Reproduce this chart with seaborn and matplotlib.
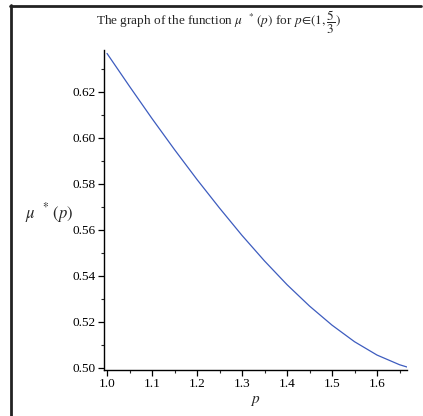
import pandas as pd
import matplotlib
matplotlib.use("Agg")
import matplotlib.pyplot as plt
from matplotlib.lines import Line2D
from matplotlib.ticker import MultipleLocator, FormatStrFormatter
import seaborn as sns

# values
p_values = [1.00, 1.05, 1.10, 1.15, 1.20, 1.25, 1.30, 1.35, 1.40,
            1.45, 1.50, 1.55, 1.60, 1.65, 5 / 3]
mu_values = [0.6366, 0.6223, 0.6083, 0.5948, 0.5818, 0.5694, 0.5575, 0.5464,
             0.5361, 0.5268, 0.5185, 0.5113, 0.5055, 0.5013, 0.5003]

x_ticks = [1.0, 1.1, 1.2, 1.3, 1.4, 1.5, 1.6]
y_ticks = [0.50, 0.52, 0.54, 0.56, 0.58, 0.60, 0.62]


def plot_curve():

    sns.set_style("ticks")
    plt.rcParams["font.family"] = ["Liberation Serif", "DejaVu Serif"]
    plt.rcParams["mathtext.fontset"] = "stix"

    df = pd.DataFrame({"p": p_values, "mu": mu_values})

    fig = plt.figure(figsize=(4.23, 4.16), dpi=100)
    ax = fig.add_axes([104 / 423, 46 / 416, 303 / 423, 320 / 416])

    sns.lineplot(data=df, x="p", y="mu", ax=ax, color="#3d5cbf",
                 linewidth=0.9, sort=True)

    ax.set_xlim(0.9933, 5 / 3)
    ax.set_ylim(0.4990, 0.6381)

    ax.set_xticks(x_ticks)
    ax.set_yticks(y_ticks)
    ax.xaxis.set_minor_locator(MultipleLocator(0.05))
    ax.yaxis.set_minor_locator(MultipleLocator(0.01))
    ax.xaxis.set_major_formatter(FormatStrFormatter("%.1f"))
    ax.yaxis.set_major_formatter(FormatStrFormatter("%.2f"))

    ax.tick_params(which="major", direction="out", length=4, width=0.9,
                   labelsize=9.5, pad=2, colors="black")
    ax.tick_params(which="minor", direction="out", length=2.5, width=0.8)

    for side in ["top", "right"]:
        ax.spines[side].set_visible(False)
    for side in ["left", "bottom"]:
        ax.spines[side].set_linewidth(1.0)
        ax.spines[side].set_color("black")

    ax.set_xlabel("$p$", fontsize=11, labelpad=3)
    ax.set_ylabel("")

    fig.text(49 / 423, 1 - 213 / 416, r"$\mu^{\ \ *}\,(p)$", fontsize=12,
             ha="center", va="center")

    fig.text(218 / 423, 1 - 22 / 416,
             r"The graph of the function $\mu^{\ \ *}\,(p)$ for $p\!\in\!(1,\dfrac{5}{3})$",
             fontsize=9.5, ha="center", va="center")

    # frame lines around the picture (top and left only)
    fig.add_artist(Line2D([10 / 423, 421 / 423], [1 - 5.5 / 416, 1 - 5.5 / 416],
                          color="#222222", linewidth=2.0,
                          transform=fig.transFigure))
    fig.add_artist(Line2D([11 / 423, 11 / 423], [0, 1 - 4.5 / 416],
                          color="#222222", linewidth=2.0,
                          transform=fig.transFigure))

    fig.savefig("out.png", dpi=100)


def main():
    plot_curve()


if __name__ == "__main__":
    main()
